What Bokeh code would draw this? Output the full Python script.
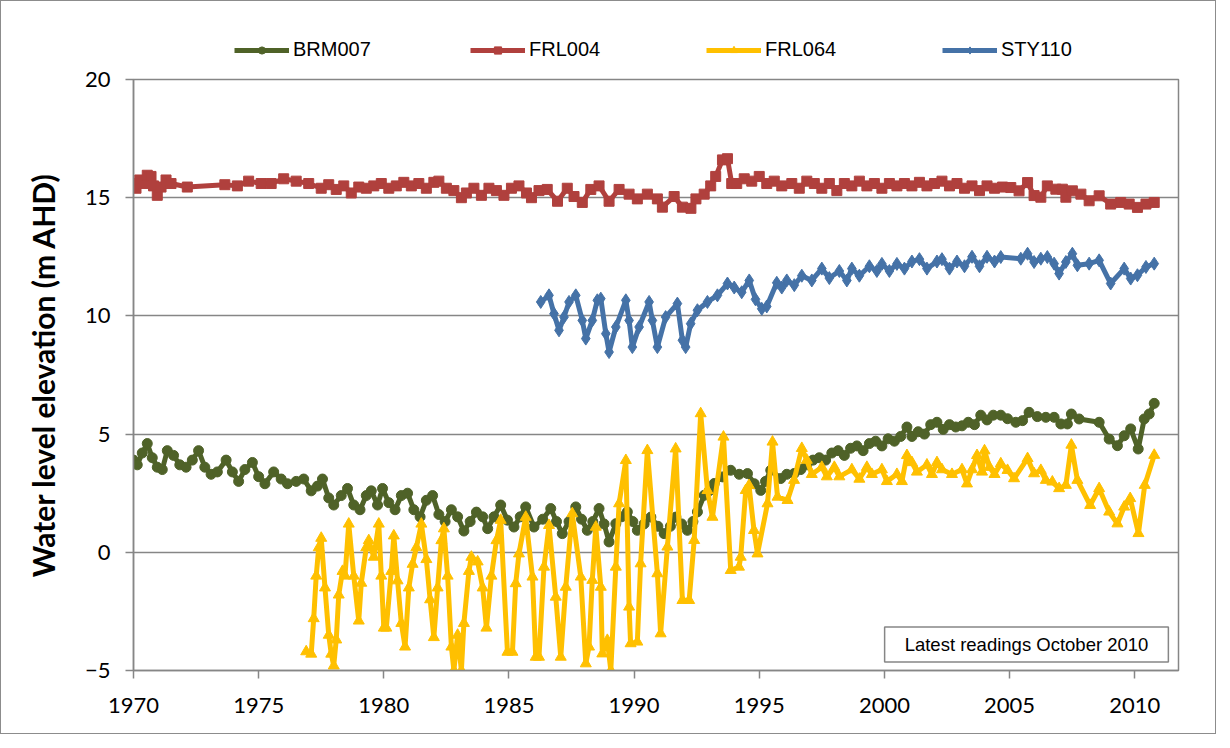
from bokeh.plotting import figure
from bokeh.layouts import column
from bokeh.models import Range1d, FixedTicker, Legend, LegendItem, Label
from bokeh.embed import file_html
from bokeh.resources import INLINE

# ---------------- data ----------------
brm_year = [1970.0, 1970.15, 1970.35, 1970.55, 1970.75, 1970.95, 1971.15, 1971.35, 1971.6, 1971.85,
            1972.1, 1972.35, 1972.6, 1972.85, 1973.1, 1973.35, 1973.7, 1973.95, 1974.2, 1974.45,
            1974.75, 1975.0, 1975.25, 1975.6, 1975.9, 1976.15, 1976.5, 1976.8, 1977.1, 1977.35,
            1977.55, 1977.8, 1978.0, 1978.3, 1978.55, 1978.8, 1979.05, 1979.3, 1979.5, 1979.75,
            1979.95, 1980.2, 1980.45, 1980.7, 1980.95, 1981.2, 1981.45, 1981.7, 1981.95, 1982.2,
            1982.45, 1982.7, 1982.95, 1983.2, 1983.45, 1983.7, 1983.95, 1984.15, 1984.4, 1984.67,
            1984.94, 1985.2, 1985.45, 1985.67, 1986.0, 1986.35, 1986.67, 1986.9, 1987.13, 1987.4,
            1987.67, 1987.9, 1988.13, 1988.35, 1988.6, 1988.8, 1989.0, 1989.27, 1989.5, 1989.73,
            1989.95, 1990.13, 1990.4, 1990.67, 1990.95, 1991.2, 1991.45, 1991.67, 1991.9, 1992.13,
            1992.35, 1992.53, 1992.8, 1993.0, 1993.2, 1993.53, 1993.86, 1994.2, 1994.53, 1994.8,
            1995.06, 1995.25, 1995.46, 1995.86, 1996.1, 1996.39, 1996.66, 1996.9, 1997.15, 1997.4,
            1997.65, 1997.9, 1998.15, 1998.4, 1998.65, 1998.9, 1999.15, 1999.4, 1999.65, 1999.9,
            2000.15, 2000.4, 2000.65, 2000.9, 2001.1, 2001.35, 2001.6, 2001.85, 2002.1, 2002.35,
            2002.6, 2002.85, 2003.1, 2003.35, 2003.6, 2003.85, 2004.1, 2004.35, 2004.65, 2004.92,
            2005.25, 2005.52, 2005.78, 2006.11, 2006.45, 2006.78, 2007.05, 2007.31, 2007.47, 2007.78,
            2008.58, 2008.98, 2009.31, 2009.58, 2009.84, 2010.14, 2010.38, 2010.58, 2010.78]
brm_val = [3.9, 3.7, 4.2, 4.6, 4.0, 3.6, 3.5, 4.3, 4.1, 3.7,
           3.6, 3.9, 4.3, 3.6, 3.3, 3.4, 3.9, 3.4, 3.0, 3.5,
           3.8, 3.2, 2.9, 3.4, 3.1, 2.9, 3.0, 3.1, 2.6, 2.8,
           3.1, 2.3, 2.0, 2.4, 2.7, 2.0, 1.8, 2.4, 2.6, 2.0,
           2.7, 2.1, 1.8, 2.4, 2.5, 1.8, 1.5, 2.2, 2.4, 1.6,
           1.3, 1.8, 1.5, 0.9, 1.3, 1.7, 1.5, 1.0, 1.5, 2.0,
           1.36, 1.07, 1.5, 1.92, 1.07, 1.4, 1.85, 1.3, 0.79, 1.3,
           1.92, 1.4, 0.93, 1.3, 1.85, 1.2, 0.44, 1.21, 1.5, 1.71,
           1.3, 0.93, 1.2, 1.49, 1.1, 0.79, 1.1, 1.49, 1.2, 0.93,
           1.3, 1.71, 2.41, 2.6, 2.91, 3.19, 3.47, 3.3, 3.33, 2.9,
           2.62, 3.0, 3.47, 3.12, 3.3, 3.33, 3.5, 3.7, 3.9, 4.0,
           3.9, 4.2, 4.3, 4.1, 4.4, 4.5, 4.3, 4.6, 4.7, 4.5,
           4.8, 4.7, 4.9, 5.3, 4.9, 5.1, 5.0, 5.4, 5.5, 5.2,
           5.4, 5.3, 5.35, 5.5, 5.4, 5.8, 5.6, 5.8, 5.8, 5.65,
           5.5, 5.57, 5.92, 5.74, 5.71, 5.71, 5.43, 5.43, 5.85, 5.64,
           5.5, 4.79, 4.51, 4.93, 5.22, 4.37, 5.64, 5.85, 6.3]

frl004_year = [1970.0, 1970.1, 1970.25, 1970.4, 1970.55, 1970.7, 1970.8, 1970.95, 1971.1, 1971.3,
               1971.5, 1972.15, 1973.65, 1974.15, 1974.6, 1975.1, 1975.5, 1976.0, 1976.5, 1977.0,
               1977.5, 1977.8, 1978.1, 1978.4, 1978.7, 1979.0, 1979.3, 1979.6, 1979.9, 1980.2,
               1980.5, 1980.8, 1981.1, 1981.4, 1981.7, 1982.0, 1982.2, 1982.5, 1982.8, 1983.1,
               1983.3, 1983.6, 1983.9, 1984.2, 1984.5, 1984.8, 1985.1, 1985.4, 1985.7, 1985.9,
               1986.2, 1986.53, 1986.94, 1987.33, 1987.6, 1987.93, 1988.27, 1988.6, 1989.0, 1989.4,
               1989.8, 1990.13, 1990.53, 1990.93, 1991.13, 1991.6, 1991.93, 1992.27, 1992.47, 1992.8,
               1993.06, 1993.26, 1993.53, 1993.73, 1993.9, 1994.1, 1994.4, 1994.7, 1995.0, 1995.3,
               1995.6, 1995.9, 1996.3, 1996.6, 1996.9, 1997.2, 1997.5, 1997.8, 1998.1, 1998.4,
               1998.7, 1999.0, 1999.3, 1999.6, 1999.9, 2000.2, 2000.5, 2000.8, 2001.1, 2001.4,
               2001.7, 2002.0, 2002.3, 2002.6, 2002.9, 2003.2, 2003.5, 2003.8, 2004.1, 2004.4,
               2004.72, 2005.05, 2005.38, 2005.72, 2005.98, 2006.25, 2006.51, 2006.85, 2007.11, 2007.25,
               2007.51, 2007.85, 2008.18, 2008.58, 2009.04, 2009.44, 2009.78, 2010.11, 2010.45, 2010.78]
frl004_val = [15.6, 15.4, 15.75, 15.6, 15.95, 15.9, 15.5, 15.1, 15.45, 15.75,
              15.6, 15.45, 15.55, 15.5, 15.7, 15.6, 15.6, 15.8, 15.7, 15.6,
              15.4, 15.55, 15.35, 15.5, 15.2, 15.45, 15.4, 15.5, 15.6, 15.4,
              15.5, 15.65, 15.5, 15.6, 15.4, 15.65, 15.7, 15.4, 15.3, 15.0,
              15.2, 15.4, 15.1, 15.4, 15.3, 15.1, 15.4, 15.5, 15.2, 15.0,
              15.3, 15.35, 14.85, 15.4, 15.05, 14.8, 15.35, 15.5, 14.85, 15.35,
              15.15, 14.95, 15.15, 14.95, 14.6, 15.05, 14.6, 14.55, 14.95, 15.15,
              15.5, 15.9, 16.6, 16.65, 15.6, 15.6, 15.8, 15.7, 15.9, 15.6,
              15.7, 15.5, 15.6, 15.4, 15.7, 15.6, 15.4, 15.6, 15.3, 15.6,
              15.5, 15.7, 15.5, 15.6, 15.4, 15.6, 15.5, 15.6, 15.5, 15.65,
              15.5, 15.6, 15.7, 15.5, 15.6, 15.4, 15.5, 15.3, 15.5, 15.4,
              15.45, 15.43, 15.29, 15.64, 15.09, 15.02, 15.5, 15.36, 15.36, 15.02,
              15.29, 15.15, 14.87, 15.08, 14.73, 14.8, 14.73, 14.59, 14.73, 14.8]

frl064_year = [1976.9, 1977.1, 1977.2, 1977.3, 1977.4, 1977.5, 1977.65, 1977.8, 1977.9, 1978.0,
               1978.1, 1978.2, 1978.35, 1978.45, 1978.6, 1978.8, 1979.0, 1979.1, 1979.3, 1979.4,
               1979.6, 1979.8, 1979.9, 1980.0, 1980.1, 1980.3, 1980.4, 1980.55, 1980.7, 1980.85,
               1981.0, 1981.15, 1981.3, 1981.5, 1981.7, 1981.85, 1982.0, 1982.15, 1982.3, 1982.4,
               1982.55, 1982.7, 1982.8, 1982.95, 1983.1, 1983.2, 1983.4, 1983.5, 1983.75, 1983.95,
               1984.1, 1984.3, 1984.5, 1984.67, 1984.94, 1985.14, 1985.27, 1985.4, 1985.67, 1985.94,
               1986.07, 1986.2, 1986.4, 1986.6, 1986.87, 1987.07, 1987.27, 1987.53, 1987.87, 1988.07,
               1988.2, 1988.33, 1988.47, 1988.67, 1988.73, 1988.93, 1989.07, 1989.27, 1989.4, 1989.67,
               1989.8, 1989.86, 1990.13, 1990.26, 1990.53, 1990.93, 1991.06, 1991.33, 1991.66, 1991.93,
               1992.2, 1992.4, 1992.66, 1992.93, 1993.13, 1993.57, 1993.86, 1994.19, 1994.26, 1994.46,
               1994.59, 1994.79, 1994.93, 1995.33, 1995.53, 1995.73, 1996.13, 1996.39, 1996.7, 1996.9,
               1997.1, 1997.5, 1997.7, 1998.0, 1998.2, 1998.7, 1999.0, 1999.3, 1999.5, 1999.9,
               2000.1, 2000.5, 2000.7, 2000.9, 2001.1, 2001.3, 2001.7, 2001.9, 2002.1, 2002.3,
               2002.7, 2003.1, 2003.3, 2003.5, 2003.7, 2003.9, 2004.0, 2004.2, 2004.4, 2004.65,
               2004.92, 2005.18, 2005.72, 2005.98, 2006.25, 2006.45, 2006.71, 2006.98, 2007.25, 2007.47,
               2007.71, 2008.22, 2008.58, 2008.98, 2009.31, 2009.58, 2009.82, 2010.15, 2010.4, 2010.78]
frl064_val = [-4.2, -4.3, -2.8, -1.0, 0.2, 0.6, -1.5, -3.5, -4.3, -4.8,
              -3.7, -1.8, -0.8, -1.0, 1.2, -1.0, -2.9, -1.3, 0.2, 0.5,
              -0.2, 1.2, -1.0, -3.2, -3.2, -0.8, 0.7, -1.2, -3.0, -4.0,
              -1.5, -0.5, 0.2, 1.2, -0.3, -2.0, -3.6, -1.5, 0.5, 1.0,
              -1.0, -4.0, -5.0, -3.5, -5.0, -3.0, -0.8, -0.2, -0.4, -1.5,
              -3.2, -1.0, 0.5, 1.36, -4.22, -4.22, -1.32, -0.06, 1.49, -1.04,
              -4.43, -4.43, -0.62, 1.14, -1.89, -4.43, -1.47, 1.64, -1.04, -4.71,
              -4.0, -1.18, 1.07, -1.47, -4.29, -3.72, -5.0, -0.62, 2.06, 3.89,
              -2.31, -3.86, -3.79, -0.48, 4.31, -0.9, -3.44, 0.23, 4.38, -2.03,
              -2.03, 0.51, 5.87, 2.62, 1.49, 4.88, -0.76, -0.62, -0.2, 2.62,
              2.83, 0.93, -0.06, 2.06, 4.67, 2.34, 2.2, 3.05, 4.4, 3.9,
              3.3, 3.6, 3.2, 3.6, 3.2, 3.5, 3.1, 3.6, 3.3, 3.5,
              3.0, 3.3, 3.0, 4.1, 3.8, 3.4, 3.7, 3.3, 3.8, 3.5,
              3.3, 3.5, 2.9, 3.5, 4.1, 3.4, 4.3, 3.6, 3.3, 3.75,
              3.47, 3.12, 3.97, 3.33, 3.47, 3.05, 2.98, 2.7, 2.84, 4.54,
              3.05, 1.99, 2.7, 1.71, 1.21, 1.92, 2.28, 0.8, 2.84, 4.11]

sty110_year = [1986.27, 1986.6, 1986.8, 1987.0, 1987.2, 1987.4, 1987.67, 1987.93, 1988.07, 1988.33,
               1988.53, 1988.67, 1988.87, 1989.0, 1989.27, 1989.67, 1989.8, 1989.93, 1990.2, 1990.6,
               1990.73, 1990.93, 1991.26, 1991.73, 1991.93, 1992.06, 1992.26, 1992.53, 1992.93, 1993.33,
               1993.73, 1994.0, 1994.3, 1994.6, 1994.85, 1995.1, 1995.3, 1995.7, 1995.9, 1996.1,
               1996.4, 1996.7, 1997.1, 1997.5, 1997.8, 1998.2, 1998.5, 1998.7, 1999.0, 1999.4,
               1999.7, 1999.9, 2000.2, 2000.5, 2000.8, 2001.1, 2001.4, 2001.7, 2002.1, 2002.3,
               2002.6, 2002.9, 2003.2, 2003.5, 2003.8, 2004.1, 2004.4, 2004.65, 2005.45, 2005.72,
               2005.98, 2006.25, 2006.51, 2006.78, 2006.98, 2007.25, 2007.51, 2007.71, 2008.18, 2008.58,
               2009.04, 2009.58, 2009.84, 2010.11, 2010.45, 2010.78]
sty110_val = [10.59, 10.87, 10.09, 9.39, 9.95, 10.59, 10.87, 9.81, 9.04, 9.81,
              10.66, 10.73, 9.25, 8.47, 9.53, 10.66, 9.81, 8.68, 9.53, 10.59,
              9.81, 8.68, 9.95, 10.52, 8.97, 8.68, 9.67, 10.24, 10.59, 10.87,
              11.37, 11.2, 11.0, 11.5, 10.7, 10.3, 10.4, 11.4, 11.2, 11.5,
              11.3, 11.7, 11.5, 12.0, 11.6, 11.9, 11.5, 12.0, 11.7, 12.1,
              11.9, 12.2, 11.9, 12.2, 12.0, 12.3, 12.4, 12.0, 12.3, 12.4,
              12.0, 12.3, 12.1, 12.5, 12.1, 12.5, 12.3, 12.49, 12.42, 12.63,
              12.28, 12.42, 12.49, 12.21, 11.79, 12.28, 12.63, 12.14, 12.21, 12.35,
              11.37, 12.0, 11.58, 11.72, 12.07, 12.21]

series_names = ["BRM007", "FRL004", "FRL064", "STY110"]
series_colors = ["#4F6228", "#B0403D", "#FFC000", "#4572A7"]
series_markers = ["circle", "square", "triangle", "diamond"]
series_msize = [10, 10, 11, 13]
x_ticks = [1970, 1975, 1980, 1985, 1990, 1995, 2000, 2005, 2010]
y_ticks = [-5, 0, 5, 10, 15, 20]
note_text = "Latest readings October 2010"
y_title = "Water level elevation (m AHD)"

# ---------------- legend strip (own small figure above the chart) ----------------
# its ranges are far from the data, so its renderers draw nothing but legend swatches
lf = figure(width=1214, height=60, output_backend="svg", toolbar_location=None,
            x_range=Range1d(0, 1), y_range=Range1d(0, 1),
            x_axis_type=None, y_axis_type=None,
            min_border_left=0, min_border_right=0, min_border_top=0, min_border_bottom=0,
            background_fill_color="white", border_fill_color="white")
lf.outline_line_color = None
lf.xgrid.visible = False
lf.ygrid.visible = False

# ---------------- main figure ----------------
p = figure(width=1214, height=672, output_backend="svg", toolbar_location=None,
           x_range=Range1d(1970, 2011.75), y_range=Range1d(-5, 20),
           min_border_left=132, min_border_right=37, min_border_top=18, min_border_bottom=63,
           background_fill_color="white", border_fill_color="white")

p.outline_line_color = "#868686"
p.outline_line_width = 1.5
p.xgrid.visible = False
p.ygrid.grid_line_color = "#868686"
p.ygrid.grid_line_width = 1.5
p.ygrid.ticker = FixedTicker(ticks=y_ticks)

for ax in (p.xaxis[0], p.yaxis[0]):
    ax.axis_line_color = "#868686"
    ax.axis_line_width = 1.5
    ax.major_tick_line_color = "#868686"
    ax.major_tick_line_width = 1.5
    ax.major_tick_out = 8
    ax.major_tick_in = 0
    ax.minor_tick_out = 0
    ax.minor_tick_in = 0
    ax.major_label_text_font = "Lato"
    ax.major_label_text_font_size = "22px"
    ax.major_label_text_color = "#000000"

p.xaxis.ticker = FixedTicker(ticks=x_ticks)
p.yaxis.ticker = FixedTicker(ticks=y_ticks)
p.xaxis.major_label_standoff = 19
p.yaxis.major_label_standoff = 15
p.yaxis.axis_label = y_title
p.yaxis.axis_label_text_font = "Lato"
p.yaxis.axis_label_text_font_style = "bold"
p.yaxis.axis_label_text_font_size = "30px"
p.yaxis.axis_label_text_color = "#000000"
p.yaxis.axis_label_standoff = 21

data = [(brm_year, brm_val), (frl004_year, frl004_val), (frl064_year, frl064_val), (sty110_year, sty110_val)]
items = []
for i, (xs, ys) in enumerate(data):
    c = series_colors[i]
    p.line(xs, ys, line_color=c, line_width=5, line_join="round")
    p.scatter(xs, ys, marker=series_markers[i], size=series_msize[i],
              fill_color=c, line_color=c, line_width=1)
    # legend swatches: same series, same styles, outside the strip's view
    ln = lf.line(xs, ys, line_color=c, line_width=5)
    mk = lf.scatter(xs, ys, marker=series_markers[i], size=series_msize[i],
                    fill_color=c, line_color=c, line_width=1)
    items.append(LegendItem(label=series_names[i], renderers=[ln, mk]))

legend = Legend(items=items, location=(101, 0), orientation="horizontal",
                border_line_color=None, background_fill_alpha=0,
                padding=0, margin=0, spacing=57, label_width=120,
                glyph_width=55, glyph_height=18, label_height=18,
                label_standoff=4, label_text_font="Liberation Sans",
                label_text_font_size="20px", label_text_color="#000000")
lf.add_layout(legend, "center")

note = Label(x=893, y=26, x_units="screen", y_units="screen", text=note_text,
             text_align="center", text_baseline="middle",
             text_font="Liberation Sans", text_font_size="18.5px", text_color="#000000",
             border_line_color="#868686", border_line_width=1.5,
             background_fill_color="white", padding=(20, 20, 7, 7))
p.add_layout(note)

layout = column(lf, p, spacing=0)
layout.styles = {"border": "1px solid #8C8C8C"}

open("out.html", "w").write(file_html(layout, INLINE))
